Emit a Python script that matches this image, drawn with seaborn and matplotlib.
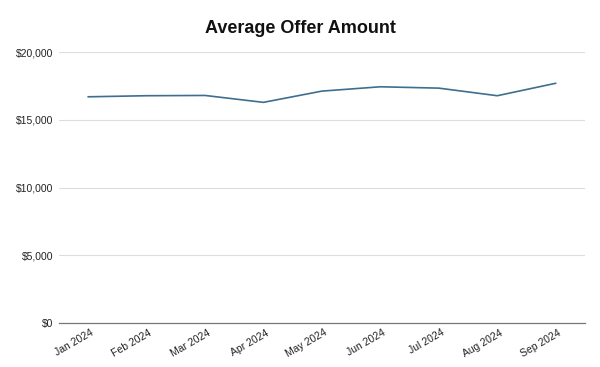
import matplotlib
matplotlib.use("Agg")
import matplotlib.pyplot as plt
import seaborn as sns
import pandas as pd
from matplotlib.ticker import FuncFormatter
from matplotlib.transforms import ScaledTranslation

months = ["Jan 2024", "Feb 2024", "Mar 2024", "Apr 2024", "May 2024",
          "Jun 2024", "Jul 2024", "Aug 2024", "Sep 2024"]
avg_offer = [16700, 16780, 16800, 16290, 17120, 17440, 17340, 16780, 17700]

df = pd.DataFrame({"month": months, "offer": avg_offer})

sns.set_theme(style="white")
plt.rcParams["font.family"] = ["Liberation Sans", "DejaVu Sans"]

fig = plt.figure(figsize=(6, 3.67), dpi=100)
ax = fig.add_axes([0.098, 0.12, 0.877, 0.738])

sns.lineplot(data=df, x="month", y="offer", ax=ax, color="#3f6e8f",
             linewidth=1.2, sort=False)

ax.set_xlim(-0.5, len(months) - 0.5)
ax.set_ylim(0, 20000)
ax.set_yticks([0, 5000, 10000, 15000, 20000])
ax.yaxis.set_major_formatter(FuncFormatter(lambda v, p: f"${v:,.0f}"))
ax.grid(axis="y", color="#dddddd", linewidth=0.8)
ax.set_axisbelow(True)
for s in ["top", "right", "left"]:
    ax.spines[s].set_visible(False)
ax.spines["bottom"].set_color("#777777")
ax.spines["bottom"].set_linewidth(0.9)
ax.tick_params(axis="both", length=0, labelsize=7.5, colors="#222222")
ax.tick_params(axis="y", pad=4)
offset = ScaledTranslation(1.5 / 72, 0, fig.dpi_scale_trans)
for lab in ax.get_xticklabels():
    lab.set_rotation(30)
    lab.set_ha("right")
    lab.set_rotation_mode("anchor")
    lab.set_transform(lab.get_transform() + offset)
ax.set_xlabel("")
ax.set_ylabel("")
fig.suptitle("Average Offer Amount", x=0.5, y=0.945, fontsize=13,
             fontweight="bold", color="#111111")

fig.savefig("out.png", dpi=100)
